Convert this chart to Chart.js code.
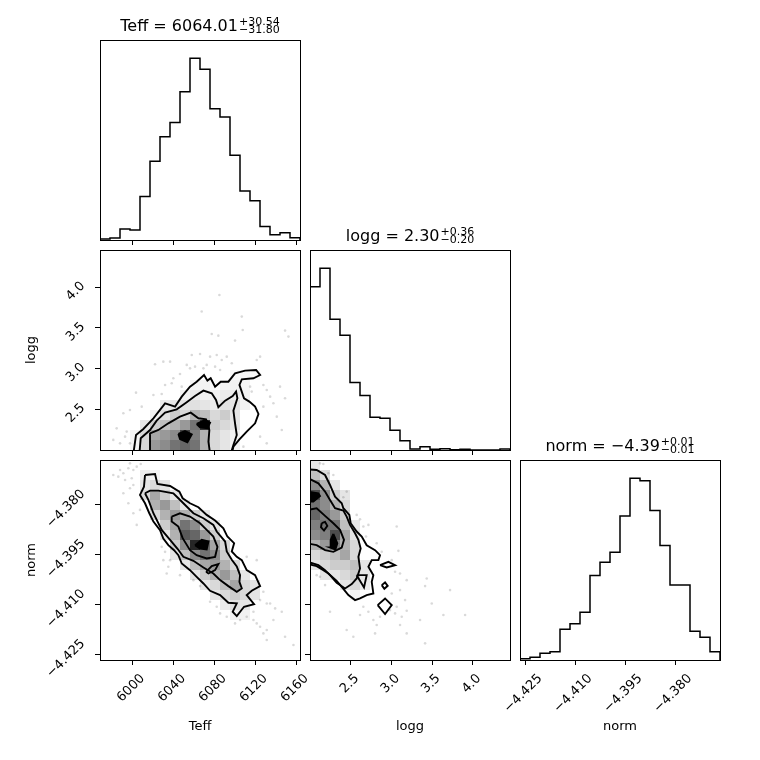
<!DOCTYPE html>
<html>
<head>
<meta charset="utf-8">
<script src="https://cdn.jsdelivr.net/npm/chart.js@4.4.1/dist/chart.umd.min.js"></script>
<style>
  body { margin: 0; background: #fff; }
  #wrap { position: relative; width: 760px; height: 760px; overflow: hidden; }
  #wrap canvas { position: absolute; }
</style>
</head>
<body>
<div id="wrap"></div>
<script>
// Axis ranges and ticks
const teffRange = [5968, 6163.5];
const loggRange = [1.996, 4.455];
const normRange = [-4.4266, -4.3665];
const teffTicks = [6000, 6040, 6080, 6120, 6160];
const loggTicks = [2.5, 3.0, 3.5, 4.0];
const normTicks = [-4.425, -4.410, -4.395, -4.380];

// 1D histograms (20 bins each)
const teffHist = [3, 6, 33, 30, 130, 235, 308, 351, 443, 543, 510, 392, 367, 253, 146, 117, 40, 16, 22, 7];
const loggHist = [489, 545, 392, 344, 202, 163, 98, 95, 59, 28, 3, 10, 2, 4, 1, 2, 0, 0, 0, 3];
const normHist = [4, 8, 20, 25, 92, 109, 143, 253, 293, 323, 432, 545, 537, 448, 343, 225, 225, 86, 68, 25];

// 2D density (darkness %, rows from top, columns from left)
const teffLoggCells = [
  [], [], [], [], [], [], [], [], [], [], [], [],
  [0,0,0,0,0,0,0,0,0,0,0,0,0,3,3,3],
  [0,0,0,0,0,0,0,0,0,4,5,0,4,5,4],
  [0,0,0,0,0,0,0,0,5,8,5,5,8,8,5],
  [0,0,0,0,0,0,8,10,10,12,10,8,12,10,5],
  [0,0,0,0,0,5,12,20,15,30,25,15,20,10],
  [0,0,0,0,10,20,25,30,40,55,80,20,15,10],
  [0,0,0,5,15,35,40,45,75,50,30,15,10,5],
  [0,0,0,5,15,40,45,55,60,55,30,15,10,5]
];
const teffNormCells = [
  [],
  [0,0,0,0,8,5],
  [0,0,0,0,10,15,10],
  [0,0,0,0,15,35,20,10],
  [0,0,0,0,0,30,40,25,10],
  [0,0,0,0,0,15,30,40,30,20,10],
  [0,0,0,0,0,0,20,35,55,45,20,10],
  [0,0,0,0,0,0,10,30,65,60,40,20],
  [0,0,0,0,0,0,0,20,45,85,60,35,15],
  [0,0,0,0,0,0,0,10,25,45,55,45,20],
  [0,0,0,0,0,0,0,0,10,25,35,40,30,15],
  [0,0,0,0,0,0,0,0,0,10,20,30,40,25,10],
  [0,0,0,0,0,0,0,0,0,0,10,15,25,35,15,10],
  [0,0,0,0,0,0,0,0,0,0,0,10,15,20,15,10],
  [0,0,0,0,0,0,0,0,0,0,0,0,8,12,10],
  [0,0,0,0,0,0,0,0,0,0,0,0,0,5,5]
];
const loggNormCells = [
  [10],
  [25,15],
  [45,30,10],
  [70,45,20,10],
  [55,45,30,15],
  [60,50,40,20],
  [50,55,55,25,10],
  [45,50,70,35,10],
  [30,40,50,30,15],
  [15,20,25,35,15],
  [10,15,20,20,25,10],
  [0,10,10,15,20,10],
  [0,0,0,10,15,8],
  [0,0,0,0,5]
];

// Contours, Teff vs logg
const tlC1 = [[6000.6,1.95],[6003.2,2.18],[6010.4,2.254],[6020.2,2.386],[6031.6,2.57],[6041.4,2.529],[6047.9,2.652],[6056.0,2.775],[6062.5,2.836],[6069.7,2.918],[6073.0,2.849],[6076.2,2.878],[6080.5,2.775],[6086.0,2.836],[6093.5,2.836],[6100.0,2.939],[6109.8,2.972],[6120.6,2.98],[6124.5,2.918],[6118.0,2.878],[6106.6,2.865],[6104.3,2.796],[6108.8,2.632],[6114.0,2.591],[6119.6,2.529],[6122.9,2.439],[6119.6,2.324],[6111.4,2.222],[6104.3,2.127],[6098.4,2.037],[6096.8,1.95]];
const tlC2 = [[6006.5,1.95],[6007.8,2.14],[6016.9,2.242],[6023.4,2.357],[6031.6,2.455],[6043.0,2.496],[6052.1,2.578],[6060.9,2.66],[6069.1,2.726],[6077.2,2.693],[6081.4,2.611],[6083.7,2.521],[6090.3,2.603],[6097.7,2.66],[6101.0,2.714],[6102.3,2.632],[6098.4,2.48],[6100.0,2.324],[6101.7,2.18],[6098.4,2.058],[6095.8,1.95]];
const tlC3 = [[6016.9,1.95],[6016.9,2.201],[6025.1,2.242],[6034.8,2.324],[6046.2,2.406],[6056.7,2.455],[6064.2,2.386],[6071.7,2.373],[6074.9,2.242],[6074.0,2.099],[6075.6,1.95]];
const tlBlobA = [[6044.6,2.193],[6051.1,2.23],[6057.7,2.189],[6053.4,2.09],[6046.2,2.131],[6044.6,2.193]];
const tlBlobB = [[6062.5,2.316],[6070.7,2.365],[6075.6,2.332],[6073.0,2.263],[6065.8,2.275],[6062.5,2.316]];
const tlPts = [[6084.7,3.902],[6067.4,3.698],[6106.6,3.636],[6107.5,3.472],[6148.9,3.464],[6152.2,3.39],[6077.2,3.423],[6083.7,3.402],[6100.0,3.341],[6057.7,3.164],[6065.8,3.177],[6075.6,3.144],[6082.1,3.164],[6087.0,3.103],[6091.9,3.144],[6096.8,3.062],[6052.8,3.042],[6056.0,3.0],[6060.9,3.021],[6069.1,3.0],[6072.3,3.042],[6080.5,3.021],[6085.4,2.98],[6021.8,3.05],[6029.9,3.082],[6036.5,3.082],[6046.2,2.931],[6039.7,2.878],[6031.6,2.796],[6038.1,2.816],[6047.9,2.775],[6003.2,2.701],[6020.2,2.673],[6028.3,2.685],[5990.8,2.447],[5997.3,2.488],[6008.8,2.529],[5984.3,2.262],[5994.1,2.222],[5987.6,2.078],[5992.5,2.16],[6124.5,3.144],[6121.2,3.103],[6127.7,2.796],[6131.0,2.734],[6134.3,2.652],[6137.5,2.57],[6144.0,2.775],[6148.9,2.632],[6127.7,2.529],[6140.8,2.406],[6145.7,2.242],[6124.5,2.16],[6108.2,2.037],[6131.0,2.078],[6114.7,2.775],[6116.3,2.714],[5997.3,2.078],[5981.0,2.12]];

// Contours, Teff vs norm
const tnC1 = [[6012.0,-4.3710],[6021.8,-4.3707],[6024.1,-4.3737],[6036.5,-4.3743],[6045.6,-4.3760],[6048.8,-4.3780],[6056.0,-4.3795],[6064.2,-4.3807],[6072.3,-4.3830],[6080.5,-4.3847],[6088.6,-4.3870],[6092.5,-4.3895],[6099.1,-4.3915],[6096.8,-4.3940],[6101.7,-4.3956],[6106.6,-4.3966],[6111.4,-4.3996],[6119.6,-4.4011],[6124.5,-4.4044],[6116.3,-4.4058],[6111.4,-4.4071],[6118.6,-4.4098],[6108.8,-4.4106],[6101.7,-4.4134],[6097.7,-4.4121],[6101.7,-4.4096],[6093.5,-4.4094],[6085.4,-4.4071],[6075.6,-4.4058],[6069.1,-4.4036],[6062.5,-4.4016],[6056.0,-4.3996],[6047.9,-4.3976],[6044.6,-4.3951],[6040.4,-4.3936],[6034.8,-4.3921],[6029.9,-4.3901],[6026.7,-4.3876],[6020.2,-4.3850],[6016.2,-4.3825],[6012.0,-4.3795],[6007.1,-4.3770],[6011.0,-4.3745],[6012.0,-4.3710]];
const tnC2 = [[6012.0,-4.3765],[6016.9,-4.3757],[6025.1,-4.3757],[6039.7,-4.3765],[6044.6,-4.3780],[6049.5,-4.3795],[6059.3,-4.3825],[6069.1,-4.3840],[6078.8,-4.3860],[6082.1,-4.3880],[6090.3,-4.3910],[6091.9,-4.3940],[6096.8,-4.3965],[6101.7,-4.3985],[6104.9,-4.4011],[6104.3,-4.4031],[6106.6,-4.4051],[6101.7,-4.4061],[6093.5,-4.4044],[6085.4,-4.4026],[6078.8,-4.4006],[6069.1,-4.3988],[6059.3,-4.3968],[6049.5,-4.3956],[6043.6,-4.3931],[6036.5,-4.3905],[6028.3,-4.3875],[6020.2,-4.3825],[6015.3,-4.3785],[6012.0,-4.3765]];
const tnC3 = [[6038.1,-4.3835],[6046.2,-4.3825],[6056.0,-4.3835],[6065.8,-4.3855],[6072.3,-4.3875],[6078.8,-4.3895],[6082.8,-4.3926],[6080.5,-4.3956],[6072.3,-4.3961],[6062.5,-4.3951],[6056.0,-4.3936],[6048.8,-4.3900],[6044.6,-4.3865],[6038.1,-4.3850],[6038.1,-4.3835]];
const tnBlob = [[6060.9,-4.3921],[6067.4,-4.3905],[6074.0,-4.3910],[6072.3,-4.3934],[6065.8,-4.3931],[6060.9,-4.3921]];
const tnLeaf = [[6071.7,-4.4001],[6077.2,-4.3984],[6083.7,-4.3978],[6080.5,-4.3996],[6074.0,-4.4006],[6071.7,-4.4001]];
const tnPts = [[5981.0,-4.3710],[5985.9,-4.3715],[5990.8,-4.3705],[5995.7,-4.3690],[5997.3,-4.3675],[6000.6,-4.3695],[6003.9,-4.3685],[6007.8,-4.3677],[5992.5,-4.3725],[5999.0,-4.3720],[6000.6,-4.3740],[5997.3,-4.3750],[5990.8,-4.3765],[5995.7,-4.3795],[6003.9,-4.3860],[6000.6,-4.3825],[6028.3,-4.3926],[6031.6,-4.3941],[6036.5,-4.3966],[6034.8,-4.3986],[6046.2,-4.4011],[6059.3,-4.4026],[6065.8,-4.4044],[6075.6,-4.4091],[6082.1,-4.4106],[6085.4,-4.4126],[6091.9,-4.4136],[6104.9,-4.4146],[6111.4,-4.4136],[6118.0,-4.4146],[6121.2,-4.4156],[6124.5,-4.4166],[6127.7,-4.4186],[6131.0,-4.4176],[6134.3,-4.4096],[6139.2,-4.4111],[6145.7,-4.4121],[6148.9,-4.4196],[6157.1,-4.4221],[6121.2,-4.3966],[6127.7,-4.4061],[6131.0,-4.4096],[6111.4,-4.3956],[6131.0,-4.4206],[6118.0,-4.4121],[6100.0,-4.4156],[6124.5,-4.4086],[6137.5,-4.4146],[6029.9,-4.3966],[6033.2,-4.4006],[5987.6,-4.3695],[6007.1,-4.3815]];

// Contours, logg vs norm
const lnC1 = [[1.975,-4.3693],[2.078,-4.3695],[2.181,-4.3710],[2.242,-4.3740],[2.304,-4.3775],[2.386,-4.3795],[2.406,-4.3810],[2.480,-4.3830],[2.496,-4.3855],[2.570,-4.3880],[2.632,-4.3895],[2.693,-4.3921],[2.796,-4.3936],[2.857,-4.3951],[2.837,-4.3966],[2.755,-4.3966],[2.714,-4.3986],[2.775,-4.4011],[2.755,-4.4031],[2.775,-4.4066],[2.693,-4.4071],[2.611,-4.4081],[2.550,-4.4086],[2.468,-4.4071],[2.386,-4.4046],[2.324,-4.4028],[2.222,-4.4006],[2.160,-4.3996],[2.078,-4.3984],[1.975,-4.3978]];
const lnC2 = [[1.975,-4.3720],[2.099,-4.3735],[2.181,-4.3760],[2.242,-4.3785],[2.304,-4.3810],[2.406,-4.3817],[2.447,-4.3835],[2.488,-4.3860],[2.550,-4.3885],[2.591,-4.3905],[2.619,-4.3931],[2.591,-4.3956],[2.611,-4.3991],[2.570,-4.4021],[2.509,-4.4038],[2.427,-4.4051],[2.324,-4.4034],[2.242,-4.4011],[2.181,-4.3996],[2.099,-4.3981],[1.975,-4.3971]];
const lnC3 = [[1.975,-4.3815],[2.078,-4.3810],[2.181,-4.3833],[2.283,-4.3855],[2.365,-4.3875],[2.414,-4.3905],[2.386,-4.3928],[2.283,-4.3941],[2.181,-4.3936],[2.078,-4.3921],[1.975,-4.3916]];
const lnLeaf = [[1.975,-4.3760],[2.099,-4.3765],[2.119,-4.3773],[2.037,-4.3790],[1.975,-4.3790]];
const lnRing = [[2.140,-4.3855],[2.181,-4.3851],[2.209,-4.3863],[2.168,-4.3877],[2.131,-4.3867],[2.140,-4.3855]];
const lnTri = [[2.283,-4.3887],[2.332,-4.3915],[2.308,-4.3934],[2.242,-4.3928],[2.250,-4.3905],[2.283,-4.3887]];
const lnIsle1 = [[2.857,-4.3981],[2.960,-4.3971],[3.042,-4.3981],[2.939,-4.3988],[2.857,-4.3981]];
const lnIsle2 = [[2.878,-4.4041],[2.919,-4.4033],[2.951,-4.4043],[2.910,-4.4052],[2.878,-4.4041]];
const lnIsle3 = [[2.828,-4.4101],[2.919,-4.4081],[3.001,-4.4101],[2.919,-4.4128],[2.828,-4.4101]];
const lnIsle4 = [[2.570,-4.4011],[2.693,-4.4011],[2.660,-4.4048],[2.570,-4.4011]];
const lnPts = [[2.119,-4.3675],[2.160,-4.3677],[2.222,-4.3705],[2.283,-4.3710],[2.447,-4.3760],[2.406,-4.3777],[2.570,-4.3830],[2.611,-4.3843],[2.652,-4.3865],[2.714,-4.3860],[2.685,-4.3895],[2.816,-4.3915],[3.062,-4.3865],[2.878,-4.3941],[3.083,-4.3938],[3.001,-4.3966],[3.042,-4.4001],[3.103,-4.4006],[3.185,-4.4026],[3.431,-4.4021],[3.411,-4.4044],[3.001,-4.4066],[3.103,-4.4056],[3.165,-4.4086],[3.062,-4.4106],[3.185,-4.4118],[3.493,-4.4096],[3.718,-4.4056],[3.636,-4.4131],[3.903,-4.4131],[2.857,-4.4136],[2.775,-4.4146],[2.714,-4.4121],[2.611,-4.4131],[2.816,-4.4161],[3.103,-4.4161],[3.124,-4.4136],[3.349,-4.4146],[2.796,-4.4186],[2.529,-4.4196],[2.242,-4.4121],[2.119,-4.4016],[2.181,-4.4041],[2.078,-4.4011],[2.447,-4.4176],[3.185,-4.4186],[3.411,-4.4216],[2.980,-4.4116],[3.042,-4.4126],[2.652,-4.4106]];

const titles = {
  teff: ['Teff = 6064.01', '+30.54', '\u221231.80'],
  logg: ['logg = 2.30', '+0.36', '\u22120.20'],
  norm: ['norm = \u22124.39', '+0.01', '\u22120.01']
};

// Layout
const L = 100, T = 40, R = 20, B = 100, S = 200;
const FONT = '"DejaVu Sans", sans-serif';
Chart.defaults.font.family = FONT;
Chart.defaults.font.size = 13;
Chart.defaults.color = '#000';

function fmt(v, dec) {
  return (v < 0 ? '\u2212' : '') + Math.abs(v).toFixed(dec);
}
function xy(arr) { return arr.map(p => ({ x: p[0], y: p[1] })); }

// step outline: each bin value held from its left edge to the next edge
function histData(hist, range) {
  const w = (range[1] - range[0]) / hist.length;
  const pts = [{ x: range[0], y: 0 }];
  hist.forEach((h, i) => pts.push({ x: range[0] + i * w, y: h }));
  pts.push({ x: range[1], y: hist[hist.length - 1] });
  pts.push({ x: range[1], y: 0 });
  return pts;
}

const framePlugin = {
  id: 'frame',
  afterDraw(chart) {
    const { ctx, chartArea: a } = chart;
    ctx.save();
    ctx.strokeStyle = '#000';
    ctx.lineWidth = 1;
    ctx.strokeRect(a.left + 0.5, a.top + 0.5, a.right - a.left, a.bottom - a.top);
    ctx.restore();
  }
};

function cellsPlugin(rows, xr, yr) {
  return {
    id: 'cells',
    beforeDatasetsDraw(chart) {
      const { ctx, chartArea: a, scales } = chart;
      const dx = (xr[1] - xr[0]) / 20, dy = (yr[1] - yr[0]) / 20;
      ctx.save();
      ctx.beginPath();
      ctx.rect(a.left, a.top, a.right - a.left, a.bottom - a.top);
      ctx.clip();
      rows.forEach((row, r) => {
        row.forEach((v, c) => {
          if (!v) return;
          const x0 = Math.round(scales.x.getPixelForValue(xr[0] + c * dx));
          const x1 = Math.round(scales.x.getPixelForValue(xr[0] + (c + 1) * dx));
          const y0 = Math.round(scales.y.getPixelForValue(yr[1] - r * dy));
          const y1 = Math.round(scales.y.getPixelForValue(yr[1] - (r + 1) * dy));
          ctx.fillStyle = 'rgba(0,0,0,' + (v / 100) + ')';
          ctx.fillRect(x0, y0, x1 - x0, y1 - y0);
        });
      });
      ctx.restore();
    }
  };
}

function titlePlugin(t) {
  return {
    id: 'ptitle',
    afterDraw(chart) {
      const { ctx, chartArea: a } = chart;
      ctx.save();
      ctx.fillStyle = '#000';
      ctx.textAlign = 'left';
      ctx.textBaseline = 'alphabetic';
      ctx.font = '16px ' + FONT;
      const w1 = ctx.measureText(t[0]).width;
      ctx.font = '11px ' + FONT;
      const w2 = Math.max(ctx.measureText(t[1]).width, ctx.measureText(t[2]).width);
      const x = (a.left + a.right) / 2 - (w1 + w2 + 1) / 2;
      ctx.font = '16px ' + FONT;
      ctx.fillText(t[0], x, a.top - 9);
      ctx.font = '11px ' + FONT;
      ctx.fillText(t[1], x + w1 + 1, a.top - 15.5);
      ctx.fillText(t[2], x + w1 + 1, a.top - 7.5);
      ctx.restore();
    }
  };
}

function axis(ax, horizontal) {
  const o = {
    type: 'linear',
    min: ax.range[0],
    max: ax.range[1],
    afterBuildTicks: s => { s.ticks = ax.ticks.map(v => ({ value: v })); },
    grid: { drawOnChartArea: false, tickLength: 5, color: '#000', lineWidth: 1 },
    border: { display: false },
    ticks: {
      display: !!ax.labels, autoSkip: false, minRotation: 45, maxRotation: 45,
      padding: horizontal ? 6 : 12, labelOffset: ax.offset || 0, color: '#000',
      callback: v => fmt(v, ax.dec)
    },
    title: {
      display: !!ax.title, text: ax.title || '', color: '#000',
      padding: horizontal ? { top: 0, bottom: 26 } : { top: 24, bottom: 0 }
    }
  };
  if (horizontal) o.afterFit = s => { s.height = B; };
  else o.afterFit = s => { s.width = L; };
  return o;
}

function contour(arr, filled) {
  return {
    data: xy(arr), showLine: true, pointRadius: 0, borderColor: '#000',
    borderWidth: 1.9, tension: 0, clip: 0,
    fill: filled ? 'shape' : false, backgroundColor: '#000'
  };
}
function points(arr) {
  return {
    data: xy(arr), showLine: false, pointRadius: 1.3, borderWidth: 0,
    pointBackgroundColor: 'rgba(0,0,0,0.15)', backgroundColor: 'rgba(0,0,0,0.15)'
  };
}

function makePanel(p) {
  const cv = document.createElement('canvas');
  cv.width = L + S + R;
  cv.height = T + S + B;
  cv.style.left = (p.left - L) + 'px';
  cv.style.top = (p.top - T) + 'px';
  document.getElementById('wrap').appendChild(cv);
  const yScale = p.y.hidden
    ? { display: false, min: p.y.range[0], max: p.y.range[1] }
    : axis(p.y, false);
  return new Chart(cv.getContext('2d'), {
    type: 'line',
    data: { datasets: p.datasets },
    options: {
      responsive: false,
      animation: false,
      events: [],
      layout: { padding: { left: p.y.hidden ? L : 0, top: T, right: R, bottom: 0 } },
      plugins: { legend: { display: false }, tooltip: { enabled: false } },
      scales: { x: axis(p.x, true), y: yScale }
    },
    plugins: [framePlugin].concat(p.plugins || [])
  });
}

function histPanel(left, top, hist, range, ticks, dec, labels, title, offset, t) {
  return makePanel({
    left, top,
    x: { range, ticks, dec, labels, title, offset },
    y: { hidden: true, range: [0, 1.1 * Math.max(...hist)] },
    datasets: [{
      data: histData(hist, range), stepped: 'before', showLine: true, pointRadius: 0,
      borderColor: '#000', borderWidth: 1.5, fill: false
    }],
    plugins: [titlePlugin(t)]
  });
}

// Diagonal
histPanel(100, 40, teffHist, teffRange, teffTicks, 0, false, null, 10, titles.teff);
histPanel(310, 250, loggHist, loggRange, loggTicks, 1, false, null, 6, titles.logg);
histPanel(520, 460, normHist, normRange, normTicks, 3, true, 'norm', 15, titles.norm);

// Teff vs logg
makePanel({
  left: 100, top: 250,
  x: { range: teffRange, ticks: teffTicks, dec: 0, labels: false },
  y: { range: loggRange, ticks: loggTicks, dec: 1, labels: true, title: 'logg', offset: -3 },
  datasets: [contour(tlBlobA, true), contour(tlBlobB, true), contour(tlC3), contour(tlC2), contour(tlC1), points(tlPts)],
  plugins: [cellsPlugin(teffLoggCells, teffRange, loggRange)]
});

// Teff vs norm
makePanel({
  left: 100, top: 460,
  x: { range: teffRange, ticks: teffTicks, dec: 0, labels: true, title: 'Teff', offset: 10 },
  y: { range: normRange, ticks: normTicks, dec: 3, labels: true, title: 'norm', offset: -13 },
  datasets: [contour(tnBlob, true), contour(tnLeaf), contour(tnC3), contour(tnC2), contour(tnC1), points(tnPts)],
  plugins: [cellsPlugin(teffNormCells, teffRange, normRange)]
});

// logg vs norm
makePanel({
  left: 310, top: 460,
  x: { range: loggRange, ticks: loggTicks, dec: 1, labels: true, title: 'logg', offset: 6 },
  y: { range: normRange, ticks: normTicks, dec: 3, labels: false },
  datasets: [contour(lnLeaf, true), contour(lnTri, true), contour(lnRing), contour(lnIsle1), contour(lnIsle2),
    contour(lnIsle3), contour(lnIsle4), contour(lnC3), contour(lnC2), contour(lnC1), points(lnPts)],
  plugins: [cellsPlugin(loggNormCells, loggRange, normRange)]
});
</script>
</body>
</html>
